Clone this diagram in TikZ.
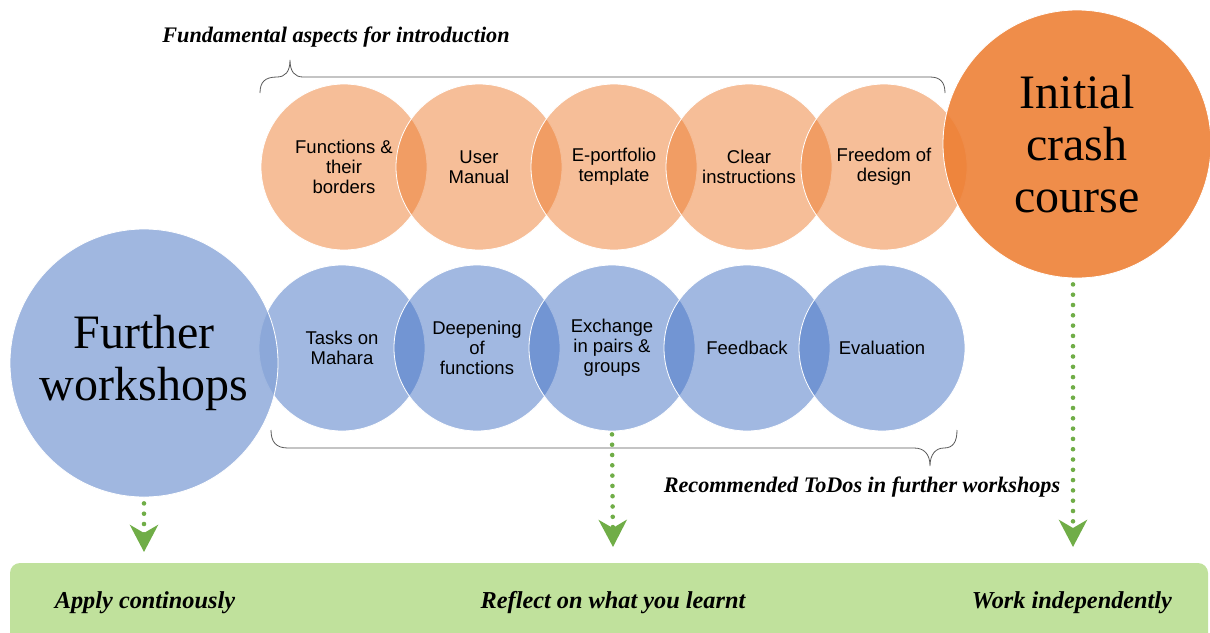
\documentclass[tikz,border=0pt]{standalone}
\usepackage{fontspec}
\setmainfont{Liberation Serif}
\setsansfont{Liberation Sans}
\usetikzlibrary{arrows.meta}
\definecolor{orA}{HTML}{ED7D31}
\definecolor{blA}{HTML}{4472C4}
\definecolor{bigBl}{RGB}{136,165,216}
\definecolor{grA}{HTML}{70AD47}
\definecolor{barG}{HTML}{C0E19C}
\definecolor{braceC}{HTML}{595959}
\tikzset{
  sm/.style={circle, minimum size=166pt, inner sep=0pt, draw=white, line width=0.8pt,
     fill opacity=0.5, text opacity=1, align=center,
     font=\sffamily\fontsize{18.5}{20}\selectfont},
  oc/.style={sm, fill=orA},
  bc/.style={sm, fill=blA},
  big/.style={circle, minimum size=268pt, inner sep=0pt, draw=white, line width=0.8pt,
     text opacity=1, align=center, font=\fontsize{48}{52}\selectfont},
  lbl/.style={font=\bfseries\itshape\fontsize{22.2}{25}\selectfont, inner sep=0pt},
  barlbl/.style={font=\bfseries\itshape\fontsize{24.3}{27}\selectfont, inner sep=0pt},
  bracel/.style={draw=braceC, line width=0.8pt},
  dotarrow/.style={draw=grA, line width=4.6pt, dash pattern=on 0pt off 10.3pt, line cap=round,
     -{Stealth[length=27pt,width=28pt,inset=8pt]}},
}
\begin{document}
\begin{tikzpicture}[x=1pt,y=-1pt]
\useasboundingbox (0,0) rectangle (1210,632);
\clip (0,0) rectangle (1210,632);
% bottom bar
\node[draw=none, fill=barG, rounded corners=10pt, minimum width=1198pt, minimum height=90pt, inner sep=0pt] (bar) at (609,608) {};
% top row
\node[oc] (o1) at (344,167) {Functions \&\\their\\borders};
\node[oc] (o2) at (479,167) {User\\Manual};
\node[oc] (o3) at (614,167) {E-portfolio\\template};
\node[oc] (o4) at (749,167) {Clear\\instructions};
\node[oc] (o5) at (884,167) {Freedom of\\design};
% big orange
\node[big, fill=orA, fill opacity=0.88] (ic) at (1077,144) {Initial\\crash\\course};
% bottom row
\node[bc] (b1) at (342,348) {Tasks on\\Mahara};
\node[bc] (b2) at (477,348) {Deepening\\of\\functions};
\node[bc] (b3) at (612,348) {Exchange\\in pairs \&\\groups};
\node[bc] (b4) at (747,348) {Feedback};
\node[bc] (b5) at (882,348) {Evaluation};
% big blue
\node[big, fill=bigBl, fill opacity=0.8] (fw) at (144,363) {Further\\workshops};
% labels
\node[lbl] (t1) at (336,37) {Fundamental aspects for introduction};
\node[lbl] (t2) at (862,487) {Recommended ToDos in further workshops};
\node[barlbl] (c1) at (145,603) {Apply continously};
\node[barlbl] (c2) at (613,603) {Reflect on what you learnt};
\node[barlbl] (c3) at (1072,603) {Work independently};
% braces
\draw[bracel] (260,93) .. controls (260,82) and (265,77) .. (277,77)
   .. controls (285,77) and (290,72) .. (290,60)
   .. controls (290,72) and (295,77) .. (303,77) -- (930,77)
   .. controls (940,77) and (945,82) .. (945,93);
\draw[bracel] (271,430) .. controls (271,442) and (276,448) .. (288,448) -- (914,448)
   .. controls (924,448) and (930,454) .. (930,466)
   .. controls (930,454) and (936,448) .. (944,448)
   .. controls (953,448) and (957,442) .. (957,430);
% arrows
\coordinate (e1) at (144,552);
\coordinate (e2) at (613,547);
\coordinate (e3) at (1073,547);
\draw[dotarrow] ([yshift=-6pt]fw.south) -- (e1);
\draw[dotarrow] ([yshift=-3pt]b3.south) -- (e2);
\draw[dotarrow] ([xshift=-4pt,yshift=-6pt]ic.south) -- (e3);
\end{tikzpicture}
\end{document}
